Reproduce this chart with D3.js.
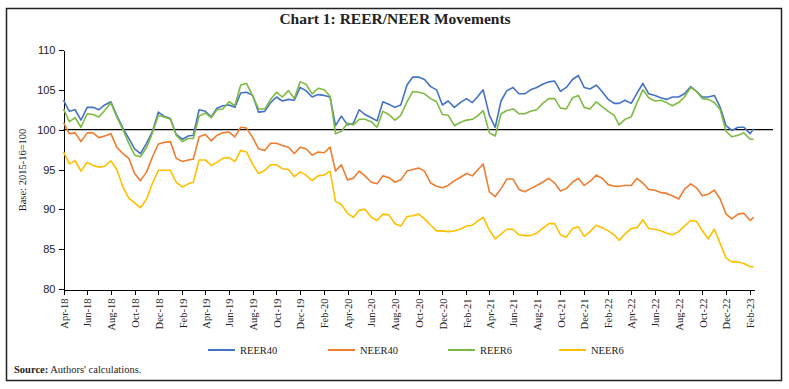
<!DOCTYPE html>
<html>
<head>
<meta charset="utf-8">
<script src="https://cdn.jsdelivr.net/npm/d3@7"></script>
<style>
  body { margin: 0; background: #fff; }
  .axis path, .axis line { stroke: #000; stroke-width: 1; shape-rendering: crispEdges; }
  .ylab text { font-family: "Liberation Sans Narrow", "Liberation Sans", sans-serif; font-size: 11px; fill: #222; }
  .xlab text { font-family: "Liberation Serif", serif; font-size: 10.5px; fill: #222; }
  .serif { font-family: "Liberation Serif", serif; fill: #222; }
  .series { fill: none; stroke-width: 1.6; stroke-linejoin: round; }
</style>
</head>
<body>
<div id="chartdiv"></div>
<script>
var dates = [
  "2018-04-01","2018-04-16","2018-05-01","2018-05-16","2018-06-01","2018-06-16","2018-07-01","2018-07-16","2018-08-01","2018-08-16",
  "2018-09-01","2018-09-16","2018-10-01","2018-10-16","2018-11-01","2018-11-16","2018-12-01","2018-12-16","2019-01-01","2019-01-16",
  "2019-02-01","2019-02-16","2019-03-01","2019-03-16","2019-04-01","2019-04-16","2019-05-01","2019-05-16","2019-06-01","2019-06-16",
  "2019-07-01","2019-07-16","2019-08-01","2019-08-16","2019-09-01","2019-09-16","2019-10-01","2019-10-16","2019-11-01","2019-11-16",
  "2019-12-01","2019-12-16","2020-01-01","2020-01-16","2020-02-01","2020-02-16","2020-03-01","2020-03-16","2020-04-01","2020-04-16",
  "2020-05-01","2020-05-16","2020-06-01","2020-06-16","2020-07-01","2020-07-16","2020-08-01","2020-08-16","2020-09-01","2020-09-16",
  "2020-10-01","2020-10-16","2020-11-01","2020-11-16","2020-12-01","2020-12-16","2021-01-01","2021-01-16","2021-02-01","2021-02-16",
  "2021-03-01","2021-03-16","2021-04-01","2021-04-16","2021-05-01","2021-05-16","2021-06-01","2021-06-16","2021-07-01","2021-07-16",
  "2021-08-01","2021-08-16","2021-09-01","2021-09-16","2021-10-01","2021-10-16","2021-11-01","2021-11-16","2021-12-01","2021-12-16",
  "2022-01-01","2022-01-16","2022-02-01","2022-02-16","2022-03-01","2022-03-16","2022-04-01","2022-04-16","2022-05-01","2022-05-16",
  "2022-06-01","2022-06-16","2022-07-01","2022-07-16","2022-08-01","2022-08-16","2022-09-01","2022-09-16","2022-10-01","2022-10-16",
  "2022-11-01","2022-11-16","2022-12-01","2022-12-16","2023-01-01","2023-01-16","2023-02-01","2023-02-10"
];

var reer40 = [
  103.7,102.3,102.5,101.2,102.8,102.8,102.5,103.1,103.5,101.8,
  100.2,98.9,97.6,97.0,98.3,99.8,102.2,101.7,101.4,99.4,
  98.8,99.2,99.3,102.5,102.3,101.6,102.7,103.0,103.1,102.8,
  104.6,104.7,104.3,102.2,102.3,103.4,104.1,103.6,103.8,103.7,
  105.3,104.9,104.1,104.4,104.3,104.1,100.5,101.7,100.6,100.8,
  102.5,101.9,101.5,101.1,103.5,103.2,102.8,103.1,105.6,106.6,
  106.6,106.3,105.4,105.0,103.1,103.6,102.8,103.4,103.9,103.4,
  104.1,105.0,101.8,100.3,103.6,104.9,105.3,104.5,104.5,105.0,
  105.3,105.7,106.0,106.1,104.8,105.3,106.3,106.8,105.3,105.1,
  105.6,104.8,103.8,103.3,103.3,103.7,103.3,104.6,105.8,104.5,
  104.3,104.0,103.8,104.1,104.1,104.5,105.4,104.8,104.1,104.1,
  104.3,102.8,100.5,99.9,100.3,100.3,99.5,100.1
];

var neer40 = [
  100.9,99.5,99.6,98.5,99.6,99.6,99.0,99.2,99.5,97.8,
  97.0,96.4,94.5,93.6,94.7,96.6,98.2,98.4,98.5,96.4,
  96.0,96.2,96.3,99.1,99.4,98.6,99.3,99.6,99.7,99.1,
  100.3,100.2,99.0,97.6,97.4,98.3,98.3,98.0,97.8,97.0,
  97.8,97.6,96.8,97.2,97.1,97.8,94.8,95.6,93.7,93.9,
  94.8,94.2,93.4,93.2,94.2,94.0,93.4,93.7,94.8,95.0,
  95.2,94.8,93.3,92.9,92.7,93.0,93.6,94.0,94.5,94.2,
  94.9,95.7,92.2,91.6,92.6,93.8,93.8,92.5,92.2,92.6,
  93.0,93.4,93.9,93.3,92.3,92.6,93.4,93.9,93.0,93.5,
  94.3,93.9,93.1,92.9,92.9,93.0,93.0,93.9,93.3,92.5,
  92.4,92.1,92.0,91.7,91.3,92.5,93.2,92.7,91.7,91.9,
  92.4,91.3,89.4,88.8,89.4,89.5,88.6,89.0
];

var reer6 = [
  102.6,101.0,101.5,100.3,102.0,101.9,101.6,102.4,103.4,101.6,
  100.0,98.3,96.8,96.6,97.8,99.6,101.8,101.6,101.3,99.3,
  98.5,98.9,98.9,101.7,102.1,101.5,102.5,102.6,103.5,103.0,
  105.6,105.8,104.2,102.6,102.6,103.8,104.7,104.1,104.9,103.9,
  106.0,105.7,104.5,105.2,105.0,104.2,99.5,99.8,100.8,100.6,
  101.3,101.3,101.0,100.3,102.3,101.9,101.2,101.8,103.5,104.8,
  104.7,104.5,103.9,103.5,101.9,101.8,100.5,100.9,101.2,101.3,
  101.7,102.4,99.6,99.2,102.0,102.4,102.6,102.0,102.0,102.3,
  102.5,103.3,103.9,103.9,102.7,102.6,104.0,104.3,102.8,102.6,
  103.5,102.9,102.3,101.8,100.6,101.3,101.6,103.4,105.0,104.0,
  103.6,103.7,103.4,103.0,103.4,104.1,105.3,104.8,103.9,103.8,
  103.4,102.5,99.8,99.1,99.3,99.6,98.8,98.8
];

var neer6 = [
  97.2,95.7,96.1,94.8,95.9,95.5,95.3,95.4,96.1,95.0,
  92.8,91.4,90.8,90.2,91.3,93.3,94.9,94.9,94.9,93.4,
  92.8,93.2,93.4,96.2,96.2,95.5,95.9,96.4,96.5,96.0,
  97.4,97.2,95.6,94.5,94.9,95.6,95.6,95.1,95.0,94.1,
  94.7,94.3,93.6,94.2,94.3,94.8,91.0,90.6,89.5,89.0,
  89.9,90.0,89.0,88.6,89.4,89.3,88.2,87.9,89.1,89.2,
  89.4,88.8,88.0,87.3,87.3,87.2,87.3,87.5,87.9,88.0,
  88.5,89.0,87.4,86.3,86.9,87.5,87.5,86.8,86.7,86.7,
  87.0,87.6,88.2,88.2,86.8,86.5,87.6,87.8,86.6,87.2,
  88.0,87.7,87.3,86.8,86.1,86.9,87.6,87.7,88.7,87.6,
  87.5,87.3,87.0,86.8,87.2,87.9,88.6,88.5,87.3,86.3,
  87.5,85.7,83.9,83.4,83.4,83.2,82.8,82.8
];

var seriesNames = ["REER40", "NEER40", "REER6", "NEER6"];
var seriesColors = ["#4472C4", "#ED7D31", "#7DBB42", "#FFC000"];
var xTickLabels = ["Apr-18","Jun-18","Aug-18","Oct-18","Dec-18","Feb-19","Apr-19","Jun-19","Aug-19","Oct-19",
  "Dec-19","Feb-20","Apr-20","Jun-20","Aug-20","Oct-20","Dec-20","Feb-21","Apr-21","Jun-21",
  "Aug-21","Oct-21","Dec-21","Feb-22","Apr-22","Jun-22","Aug-22","Oct-22","Dec-22","Feb-23"];
var yTicks = [80, 85, 90, 95, 100, 105, 110];
var baseLevel = 100;

var parseDate = d3.timeParse("%Y-%m-%d");
var parseTick = d3.timeParse("%b-%y");
var allSeries = [reer40, neer40, reer6, neer6];

var svgContainer = d3.select("div#chartdiv").append("svg")
                        .attr("width", 789)
                        .attr("height", 389);

// outer frame
svgContainer.append("rect")
    .attr("x", 6.5).attr("y", 8.5)
    .attr("width", 775).attr("height", 372)
    .attr("fill", "none")
    .attr("stroke", "#222")
    .attr("stroke-width", 1.5);

// title
svgContainer.append("text")
    .attr("class", "serif")
    .attr("x", 395).attr("y", 24)
    .attr("text-anchor", "middle")
    .style("font-size", "15.5px")
    .style("font-weight", "bold")
    .text("Chart 1: REER/NEER Movements");

var x = d3.scaleTime()
    .domain([parseDate("2018-04-01"), parseDate("2023-02-11")])
    .range([63.5, 754]);

var y = d3.scaleLinear()
    .domain([80, 110])
    .range([289, 50]);

// y axis
svgContainer.append("g")
    .attr("class", "axis ylab")
    .attr("transform", "translate(63.5,0)")
    .call(d3.axisLeft(y).tickValues(yTicks).tickSize(5).tickPadding(3).tickSizeOuter(0));

// x axis with rotated month labels
var xAxis = svgContainer.append("g")
    .attr("class", "axis xlab")
    .attr("transform", "translate(0,289.5)")
    .call(d3.axisBottom(x)
        .tickValues(xTickLabels.map(parseTick))
        .tickFormat(d3.timeFormat("%b-%y"))
        .tickSize(5)
        .tickSizeOuter(0));

xAxis.selectAll("text")
    .attr("transform", "rotate(-90)")
    .attr("x", -9)
    .attr("y", 0)
    .attr("dy", "0.35em")
    .style("text-anchor", "end");

// y axis title
svgContainer.append("text")
    .attr("class", "serif")
    .attr("transform", "translate(26,170) rotate(-90)")
    .attr("text-anchor", "middle")
    .style("font-size", "10.5px")
    .text("Base: 2015-16=100");

// base = 100 reference line (runs a little past the last date)
svgContainer.append("line")
    .attr("x1", x.range()[0])
    .attr("x2", x.range()[1] + 19)
    .attr("y1", y(baseLevel))
    .attr("y2", y(baseLevel))
    .attr("stroke", "#000")
    .attr("stroke-width", 1.2);

// series lines
var line = d3.line()
    .x(function (d, i) { return x(parseDate(dates[i])); })
    .y(function (d) { return y(d); });

svgContainer.selectAll("path.series")
    .data(allSeries)
    .enter()
    .append("path")
    .attr("class", "series")
    .attr("stroke", function (d, i) { return seriesColors[i]; })
    .attr("d", line);

// legend
var legendX = [208, 328, 448, 559];
var legend = svgContainer.selectAll("g.legend")
    .data(seriesNames)
    .enter()
    .append("g")
    .attr("class", "legend")
    .attr("transform", function (d, i) { return "translate(" + legendX[i] + ",350)"; });

legend.append("line")
    .attr("x1", 0).attr("x2", 27)
    .attr("y1", 0).attr("y2", 0)
    .attr("stroke", function (d, i) { return seriesColors[i]; })
    .attr("stroke-width", 2);

legend.append("text")
    .attr("class", "serif")
    .attr("x", 32)
    .attr("y", 0)
    .attr("dy", "0.35em")
    .style("font-size", "10.5px")
    .text(function (d) { return d; });

// source note
var source = svgContainer.append("text")
    .attr("class", "serif")
    .attr("x", 14).attr("y", 373)
    .style("font-size", "10.5px");
source.append("tspan").style("font-weight", "bold").text("Source:");
source.append("tspan").text(" Authors' calculations.");
</script>
</body>
</html>
